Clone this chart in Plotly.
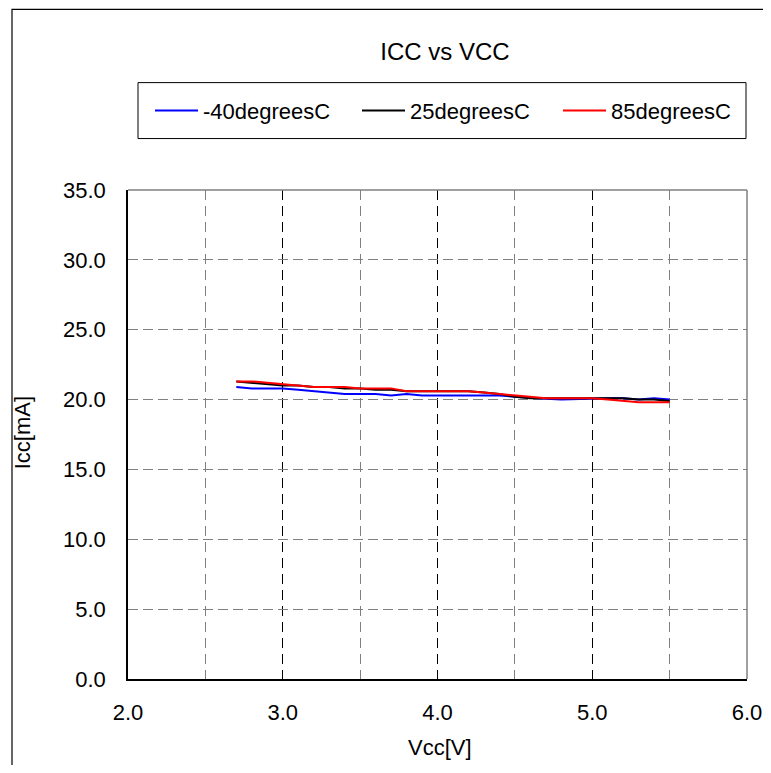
import plotly.graph_objects as go

vcc = [2.7, 2.8, 2.9, 3.0, 3.1, 3.2, 3.3, 3.4, 3.5, 3.6, 3.7, 3.8, 3.9, 4.0, 4.1,
       4.2, 4.3, 4.4, 4.5, 4.6, 4.7, 4.8, 4.9, 5.0, 5.1, 5.2, 5.3, 5.4, 5.5]
icc_m40 = [20.9, 20.8, 20.8, 20.8, 20.7, 20.6, 20.5, 20.4, 20.4, 20.4, 20.3, 20.4, 20.3, 20.3, 20.3,
           20.3, 20.3, 20.3, 20.2, 20.1, 20.05, 20.0, 20.05, 20.1, 20.1, 20.1, 20.0, 20.1, 20.0]
icc_25 = [21.3, 21.2, 21.1, 21.0, 21.0, 20.9, 20.9, 20.8, 20.8, 20.7, 20.7, 20.6, 20.6, 20.6, 20.6,
          20.6, 20.5, 20.4, 20.2, 20.1, 20.1, 20.1, 20.1, 20.1, 20.1, 20.1, 20.0, 20.0, 19.9]
icc_85 = [21.3, 21.3, 21.2, 21.1, 21.0, 20.9, 20.9, 20.9, 20.8, 20.8, 20.8, 20.6, 20.6, 20.6, 20.6,
          20.6, 20.5, 20.4, 20.3, 20.2, 20.1, 20.1, 20.1, 20.1, 20.0, 19.9, 19.8, 19.8, 19.8]
series_names = ["-40degreesC", "25degreesC", "85degreesC"]
series_colors = ["#0000ff", "#000000", "#ff0000"]
x_ticks = [2.0, 3.0, 4.0, 5.0, 6.0]
y_ticks = [0, 5, 10, 15, 20, 25, 30, 35]

FONT = "Liberation Sans, Arial, sans-serif"
OFF = 8  # page body offset
W, H = 771 - 2 * OFF, 773 - 2 * OFF  # avoid page scrollbars
L, T = 128 - OFF, 189.5 - OFF
pw, ph = 619, 489.5
R, B = W - L - pw, H - T - ph


def px_x(p):  # screen px -> paper fraction
    return (p - OFF - L) / pw


def px_y(p):
    return (T + ph - (p - OFF)) / ph


legend_ids = ["legend", "legend2", "legend3"]
legend_x = [150, 357, 558]

fig = go.Figure()
for name, ys, col, lid in zip(series_names, [icc_m40, icc_25, icc_85], series_colors, legend_ids):
    fig.add_trace(go.Scatter(x=vcc, y=ys, mode="lines", name=name, legend=lid,
                             line=dict(color=col, width=2)))

legend_layout = {}
for lid, lx in zip(legend_ids, legend_x):
    legend_layout[lid] = dict(x=px_x(lx), y=px_y(110), xanchor="left", yanchor="middle",
                              xref="paper", yref="paper", bgcolor="rgba(0,0,0,0)",
                              borderwidth=0, itemwidth=43,
                              font=dict(size=22, family=FONT))

fig.update_layout(
    width=W, height=H,
    margin=dict(l=L, r=R, t=T, b=B, autoexpand=False),
    paper_bgcolor="white", plot_bgcolor="white",
    font=dict(family=FONT, size=22, color="black"),
    title=dict(text="ICC vs VCC", x=px_x(445), xref="paper", xanchor="center",
               y=1 - (52 - OFF) / H, yref="container", yanchor="middle",
               font=dict(size=24, family=FONT)),
    showlegend=True,
    xaxis=dict(range=[2.0, 6.0], tickvals=x_ticks, ticktext=[f"{v:.1f}" for v in x_ticks],
               showline=True, linecolor="black", linewidth=1.5, mirror=False,
               showgrid=True, gridcolor="black", griddash="10px,6px", gridwidth=1,
               minor=dict(dtick=0.5, showgrid=True, gridcolor="#808080",
                          griddash="10px,6px", gridwidth=1),
               ticks="", ticklabelstandoff=13, zeroline=False, automargin=False,
               tickfont=dict(size=22, family=FONT)),
    yaxis=dict(range=[0, 35], tickvals=y_ticks, ticktext=[f"{v:.1f}" for v in y_ticks],
               showline=True, linecolor="black", linewidth=1.5,
               showgrid=True, gridcolor="#808080", griddash="10px,5px", gridwidth=1,
               ticks="", ticklabelstandoff=16, zeroline=False, automargin=False,
               tickfont=dict(size=22, family=FONT)),
    annotations=[
        dict(text="Vcc[V]", x=px_x(440), y=px_y(748), xref="paper", yref="paper",
             showarrow=False, xanchor="center", yanchor="middle",
             font=dict(size=22, family=FONT)),
        dict(text="Icc[mA]", x=px_x(22), y=px_y(433), xref="paper", yref="paper",
             showarrow=False, xanchor="center", yanchor="middle", textangle=-90,
             font=dict(size=22, family=FONT)),
    ],
    shapes=[
        dict(type="line", xref="paper", yref="paper", x0=0, x1=1, y0=1, y1=1,
             line=dict(color="#808080", width=1.5)),
        dict(type="line", xref="paper", yref="paper", x0=1, x1=1, y0=0, y1=1,
             line=dict(color="#808080", width=1.5)),
        dict(type="rect", xref="paper", yref="paper", x0=px_x(138), x1=px_x(746),
             y0=px_y(138), y1=px_y(82), line=dict(color="black", width=1)),
        dict(type="rect", xref="paper", yref="paper", x0=px_x(12), x1=px_x(800),
             y0=px_y(800), y1=px_y(8.6), line=dict(color="black", width=1.2)),
    ],
    **legend_layout,
)

fig.write_html("out.html")
